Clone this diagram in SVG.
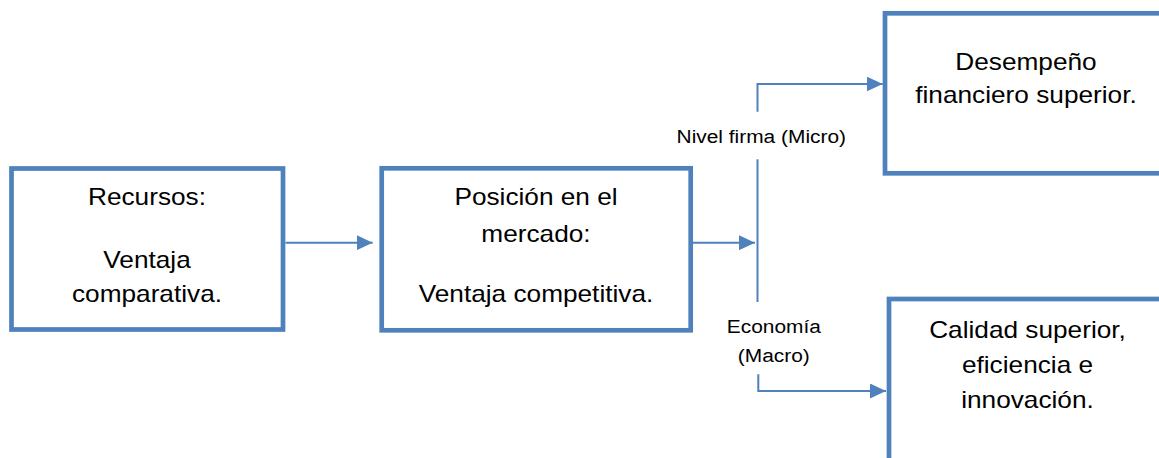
<svg xmlns="http://www.w3.org/2000/svg" width="1159" height="458" viewBox="0 0 1159 458">
<defs>
<style>
.box{fill:#fff;stroke:#4F81BD;stroke-width:4.7}
.con{fill:none;stroke:#4F81BD;stroke-width:2}
.t{font-family:"Liberation Sans",Arial,sans-serif;font-size:23px;fill:#000;text-anchor:middle}
.l{font-family:"Liberation Sans",Arial,sans-serif;font-size:19px;fill:#000;text-anchor:middle}
</style>
<marker id="ah" markerWidth="16" markerHeight="15" refX="16" refY="7.5" orient="auto" markerUnits="userSpaceOnUse">
<path d="M0,0 L16,7.5 L0,15 Z" fill="#4F81BD"/>
</marker>
</defs>
<rect width="1159" height="458" fill="#fff"/>
<g id="n1">
<rect class="box" x="11.5" y="168.5" width="271.5" height="161"/>
<text class="t" transform="translate(147,205) scale(1.14,1)">Recursos:</text>
<text class="t" transform="translate(147,268) scale(1.14,1)">Ventaja</text>
<text class="t" transform="translate(147,301.7) scale(1.14,1)">comparativa.</text>
</g>
<g id="n2">
<rect class="box" x="381.7" y="168.3" width="309" height="162"/>
<text class="t" transform="translate(536,205) scale(1.14,1)">Posición en el</text>
<text class="t" transform="translate(536,241.7) scale(1.14,1)">mercado:</text>
<text class="t" transform="translate(536,301.7) scale(1.14,1)">Ventaja competitiva.</text>
</g>
<g id="n3">
<rect class="box" x="885" y="13.3" width="290" height="160"/>
<text class="t" transform="translate(1026,70) scale(1.14,1)">Desempeño</text>
<text class="t" transform="translate(1026,103.3) scale(1.14,1)">financiero superior.</text>
</g>
<g id="n4">
<rect class="box" x="889" y="299" width="290" height="180"/>
<text class="t" transform="translate(1027.5,338.3) scale(1.14,1)">Calidad superior,</text>
<text class="t" transform="translate(1027.5,373.3) scale(1.14,1)">eficiencia e</text>
<text class="t" transform="translate(1027.5,408.3) scale(1.14,1)">innovación.</text>
</g>
<g id="connectors">
<line class="con" x1="285.5" y1="242.7" x2="372.7" y2="242.7" marker-end="url(#ah)"/>
<line class="con" x1="693" y1="242.7" x2="755" y2="242.7" marker-end="url(#ah)"/>
<line class="con" x1="757.5" y1="159.3" x2="757.5" y2="302"/>
<polyline class="con" points="757.5,111.7 757.5,84 882.7,84" marker-end="url(#ah)"/>
<polyline class="con" points="758.3,374.3 758.3,391 886,391" marker-end="url(#ah)"/>
<text class="l" transform="translate(761.3,143.3) scale(1.1,1)">Nivel firma (Micro)</text>
<text class="l" transform="translate(773.8,333.3) scale(1.1,1)">Economía</text>
<text class="l" transform="translate(773.8,361.7) scale(1.1,1)">(Macro)</text>
</g>
</svg>
